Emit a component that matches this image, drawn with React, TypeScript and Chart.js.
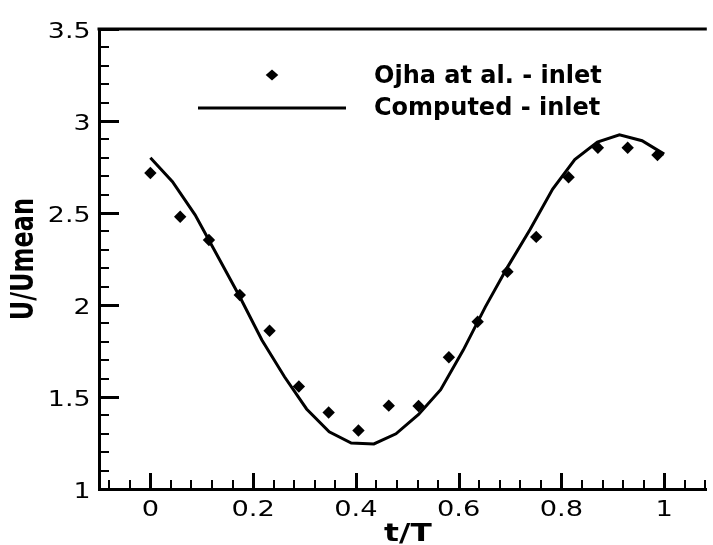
import React, { useEffect, useRef } from "react";
import { Chart, registerables } from "chart.js";

Chart.register(...registerables);

// Experimental data (Ojha et al. - inlet)
const EXP_T = [0, 0.058, 0.114, 0.174, 0.232, 0.289, 0.347, 0.405, 0.464, 0.522, 0.581, 0.637, 0.695, 0.751, 0.814, 0.871, 0.929, 0.987];
const EXP_U = [2.717, 2.48, 2.353, 2.054, 1.86, 1.557, 1.416, 1.318, 1.453, 1.451, 1.716, 1.909, 2.181, 2.37, 2.694, 2.855, 2.855, 2.815];

// Computed data (inlet)
const CMP_T = [0, 0.043, 0.087, 0.13, 0.174, 0.217, 0.261, 0.304, 0.348, 0.391, 0.435, 0.478, 0.522, 0.565, 0.609, 0.652, 0.696, 0.739, 0.783, 0.826, 0.87, 0.913, 0.957, 1.0];
const CMP_U = [2.8, 2.67, 2.49, 2.27, 2.045, 1.81, 1.61, 1.435, 1.311, 1.25, 1.245, 1.3, 1.405, 1.54, 1.755, 1.99, 2.21, 2.41, 2.63, 2.79, 2.885, 2.925, 2.893, 2.82];

const X_TICKS = [0, 0.2, 0.4, 0.6, 0.8, 1];
const X_TICK_LABELS = ["0", "0.2", "0.4", "0.6", "0.8", "1"];
const Y_TICKS = [1, 1.5, 2, 2.5, 3, 3.5];
const Y_TICK_LABELS = ["1", "1.5", "2", "2.5", "3", "3.5"];
const X_MIN = -0.1;
const X_MAX = 1.083;
const Y_MIN = 1;
const Y_MAX = 3.5;
const X_MINOR_STEP = 0.04;
const Y_MINOR_STEP = 0.1;

const X_TITLE = "t/T";
const Y_TITLE = "U/Umean";
const LEGEND_EXP = "Ojha at al. - inlet";
const LEGEND_CMP = "Computed - inlet";

const FONT = "'DejaVu Sans', Verdana, sans-serif";

function stretchedText(
  ctx: CanvasRenderingContext2D,
  text: string,
  x: number,
  y: number,
  sx: number,
  align: CanvasTextAlign,
  baseline: CanvasTextBaseline,
  rotate = false
) {
  ctx.save();
  ctx.translate(x, y);
  ctx.scale(sx, 1);
  if (rotate) ctx.rotate(-Math.PI / 2);
  ctx.textAlign = align;
  ctx.textBaseline = baseline;
  ctx.fillText(text, 0, 0);
  ctx.restore();
}

const decorPlugin = {
  id: "decor",
  afterDraw(chart: any) {
    const { ctx, chartArea, scales } = chart;
    const xs = scales.x;
    const ys = scales.y;
    const { left, right, top, bottom } = chartArea;
    ctx.save();
    ctx.strokeStyle = "#000";
    ctx.fillStyle = "#000";
    ctx.lineCap = "butt";

    // top frame line
    ctx.lineWidth = 3;
    ctx.beginPath();
    ctx.moveTo(left - 1.5, top);
    ctx.lineTo(right, top);
    ctx.stroke();

    // x minor ticks
    ctx.lineWidth = 2;
    for (let k = -5; k <= 30; k++) {
      const v = k * X_MINOR_STEP;
      if (v < X_MIN - 1e-9 || v > X_MAX + 1e-9) continue;
      const px = Math.round(xs.getPixelForValue(v));
      ctx.beginPath();
      ctx.moveTo(px, bottom);
      ctx.lineTo(px, bottom - 9);
      ctx.stroke();
    }
    // y minor ticks
    for (let k = 0; k <= 30; k++) {
      const v = Y_MIN + k * Y_MINOR_STEP;
      if (v > Y_MAX + 1e-9) continue;
      const py = Math.round(ys.getPixelForValue(v));
      ctx.beginPath();
      ctx.moveTo(left, py);
      ctx.lineTo(left + 10, py);
      ctx.stroke();
    }
    // major ticks
    ctx.lineWidth = 3;
    X_TICKS.forEach((v) => {
      const px = Math.round(xs.getPixelForValue(v)) + 0.5;
      ctx.beginPath();
      ctx.moveTo(px, bottom);
      ctx.lineTo(px, bottom - 16);
      ctx.stroke();
    });
    Y_TICKS.forEach((v) => {
      const py = Math.round(ys.getPixelForValue(v)) + 0.5;
      ctx.beginPath();
      ctx.moveTo(left, py);
      ctx.lineTo(left + 20, py);
      ctx.stroke();
    });

    // tick labels (horizontally stretched like the original)
    ctx.font = `22px ${FONT}`;
    X_TICKS.forEach((v, i) => {
      const px = xs.getPixelForValue(v);
      stretchedText(ctx, X_TICK_LABELS[i], px, bottom + 27, 1.24, "center", "alphabetic");
    });
    Y_TICKS.forEach((v, i) => {
      const py = ys.getPixelForValue(v);
      stretchedText(ctx, Y_TICK_LABELS[i], left - 8.5, py + 9, 1.22, "right", "alphabetic");
    });

    // axis titles
    ctx.font = `bold 24px ${FONT}`;
    stretchedText(ctx, X_TITLE, (left + right) / 2 + 5, 540.5, 1.3, "center", "alphabetic");
    stretchedText(ctx, Y_TITLE, 25, (top + bottom) / 2, 1.31, "center", "middle", true);

    // legend
    const dx = 272, dy = 75, rw = 6.3, rh = 5.6;
    ctx.beginPath();
    ctx.moveTo(dx, dy - rh);
    ctx.lineTo(dx + rw, dy);
    ctx.lineTo(dx, dy + rh);
    ctx.lineTo(dx - rw, dy);
    ctx.closePath();
    ctx.fill();
    ctx.lineWidth = 3;
    ctx.beginPath();
    ctx.moveTo(198, 108);
    ctx.lineTo(346, 108);
    ctx.stroke();
    ctx.font = `bold 24px ${FONT}`;
    ctx.textAlign = "left";
    ctx.textBaseline = "alphabetic";
    ctx.fillText(LEGEND_EXP, 374, 83);
    ctx.fillText(LEGEND_CMP, 374, 115);
    ctx.restore();
  },
};

export default function App() {
  const ref = useRef<HTMLCanvasElement | null>(null);
  useEffect(() => {
    const canvas = ref.current;
    if (!canvas) return;
    const chart = new Chart(canvas, {
      type: "scatter",
      data: {
        datasets: [
          {
            label: LEGEND_CMP,
            data: CMP_T.map((t, i) => ({ x: t, y: CMP_U[i] })),
            showLine: true,
            borderColor: "#000",
            backgroundColor: "#000",
            borderWidth: 3,
            pointRadius: 0,
            tension: 0,
            fill: false,
          },
          {
            label: LEGEND_EXP,
            data: EXP_T.map((t, i) => ({ x: t, y: EXP_U[i] })),
            showLine: false,
            pointStyle: "rectRot",
            pointRadius: 6.2,
            backgroundColor: "#000",
            borderColor: "#000",
            borderWidth: 0,
          },
        ],
      },
      options: {
        animation: false,
        responsive: false,
        devicePixelRatio: 1,
        layout: { padding: { top: 29, right: 0, bottom: 0, left: 0 } },
        plugins: { legend: { display: false }, tooltip: { enabled: false } },
        scales: {
          x: {
            type: "linear",
            position: "bottom",
            min: X_MIN,
            max: X_MAX,
            grid: { display: false, drawTicks: false },
            border: { display: true, color: "#000", width: 3 },
            afterBuildTicks: (s: any) => {
              s.ticks = X_TICKS.map((v) => ({ value: v }));
            },
            afterFit: (s: any) => {
              s.height = 56;
            },
            ticks: { display: false },
            title: { display: false, text: X_TITLE },
          },
          y: {
            type: "linear",
            position: "left",
            min: Y_MIN,
            max: Y_MAX,
            grid: { display: false, drawTicks: false },
            border: { display: true, color: "#000", width: 3 },
            afterBuildTicks: (s: any) => {
              s.ticks = Y_TICKS.map((v) => ({ value: v }));
            },
            afterFit: (s: any) => {
              s.width = 99;
            },
            ticks: { display: false },
            title: { display: false, text: Y_TITLE },
          },
        },
      } as any,
      plugins: [decorPlugin],
    });
    return () => chart.destroy();
  }, []);

  return (
    <div style={{ position: "absolute", left: 0, top: 0, width: 713, height: 545, background: "#fff" }}>
      <canvas ref={ref} width={713} height={545} style={{ display: "block" }} />
    </div>
  );
}
